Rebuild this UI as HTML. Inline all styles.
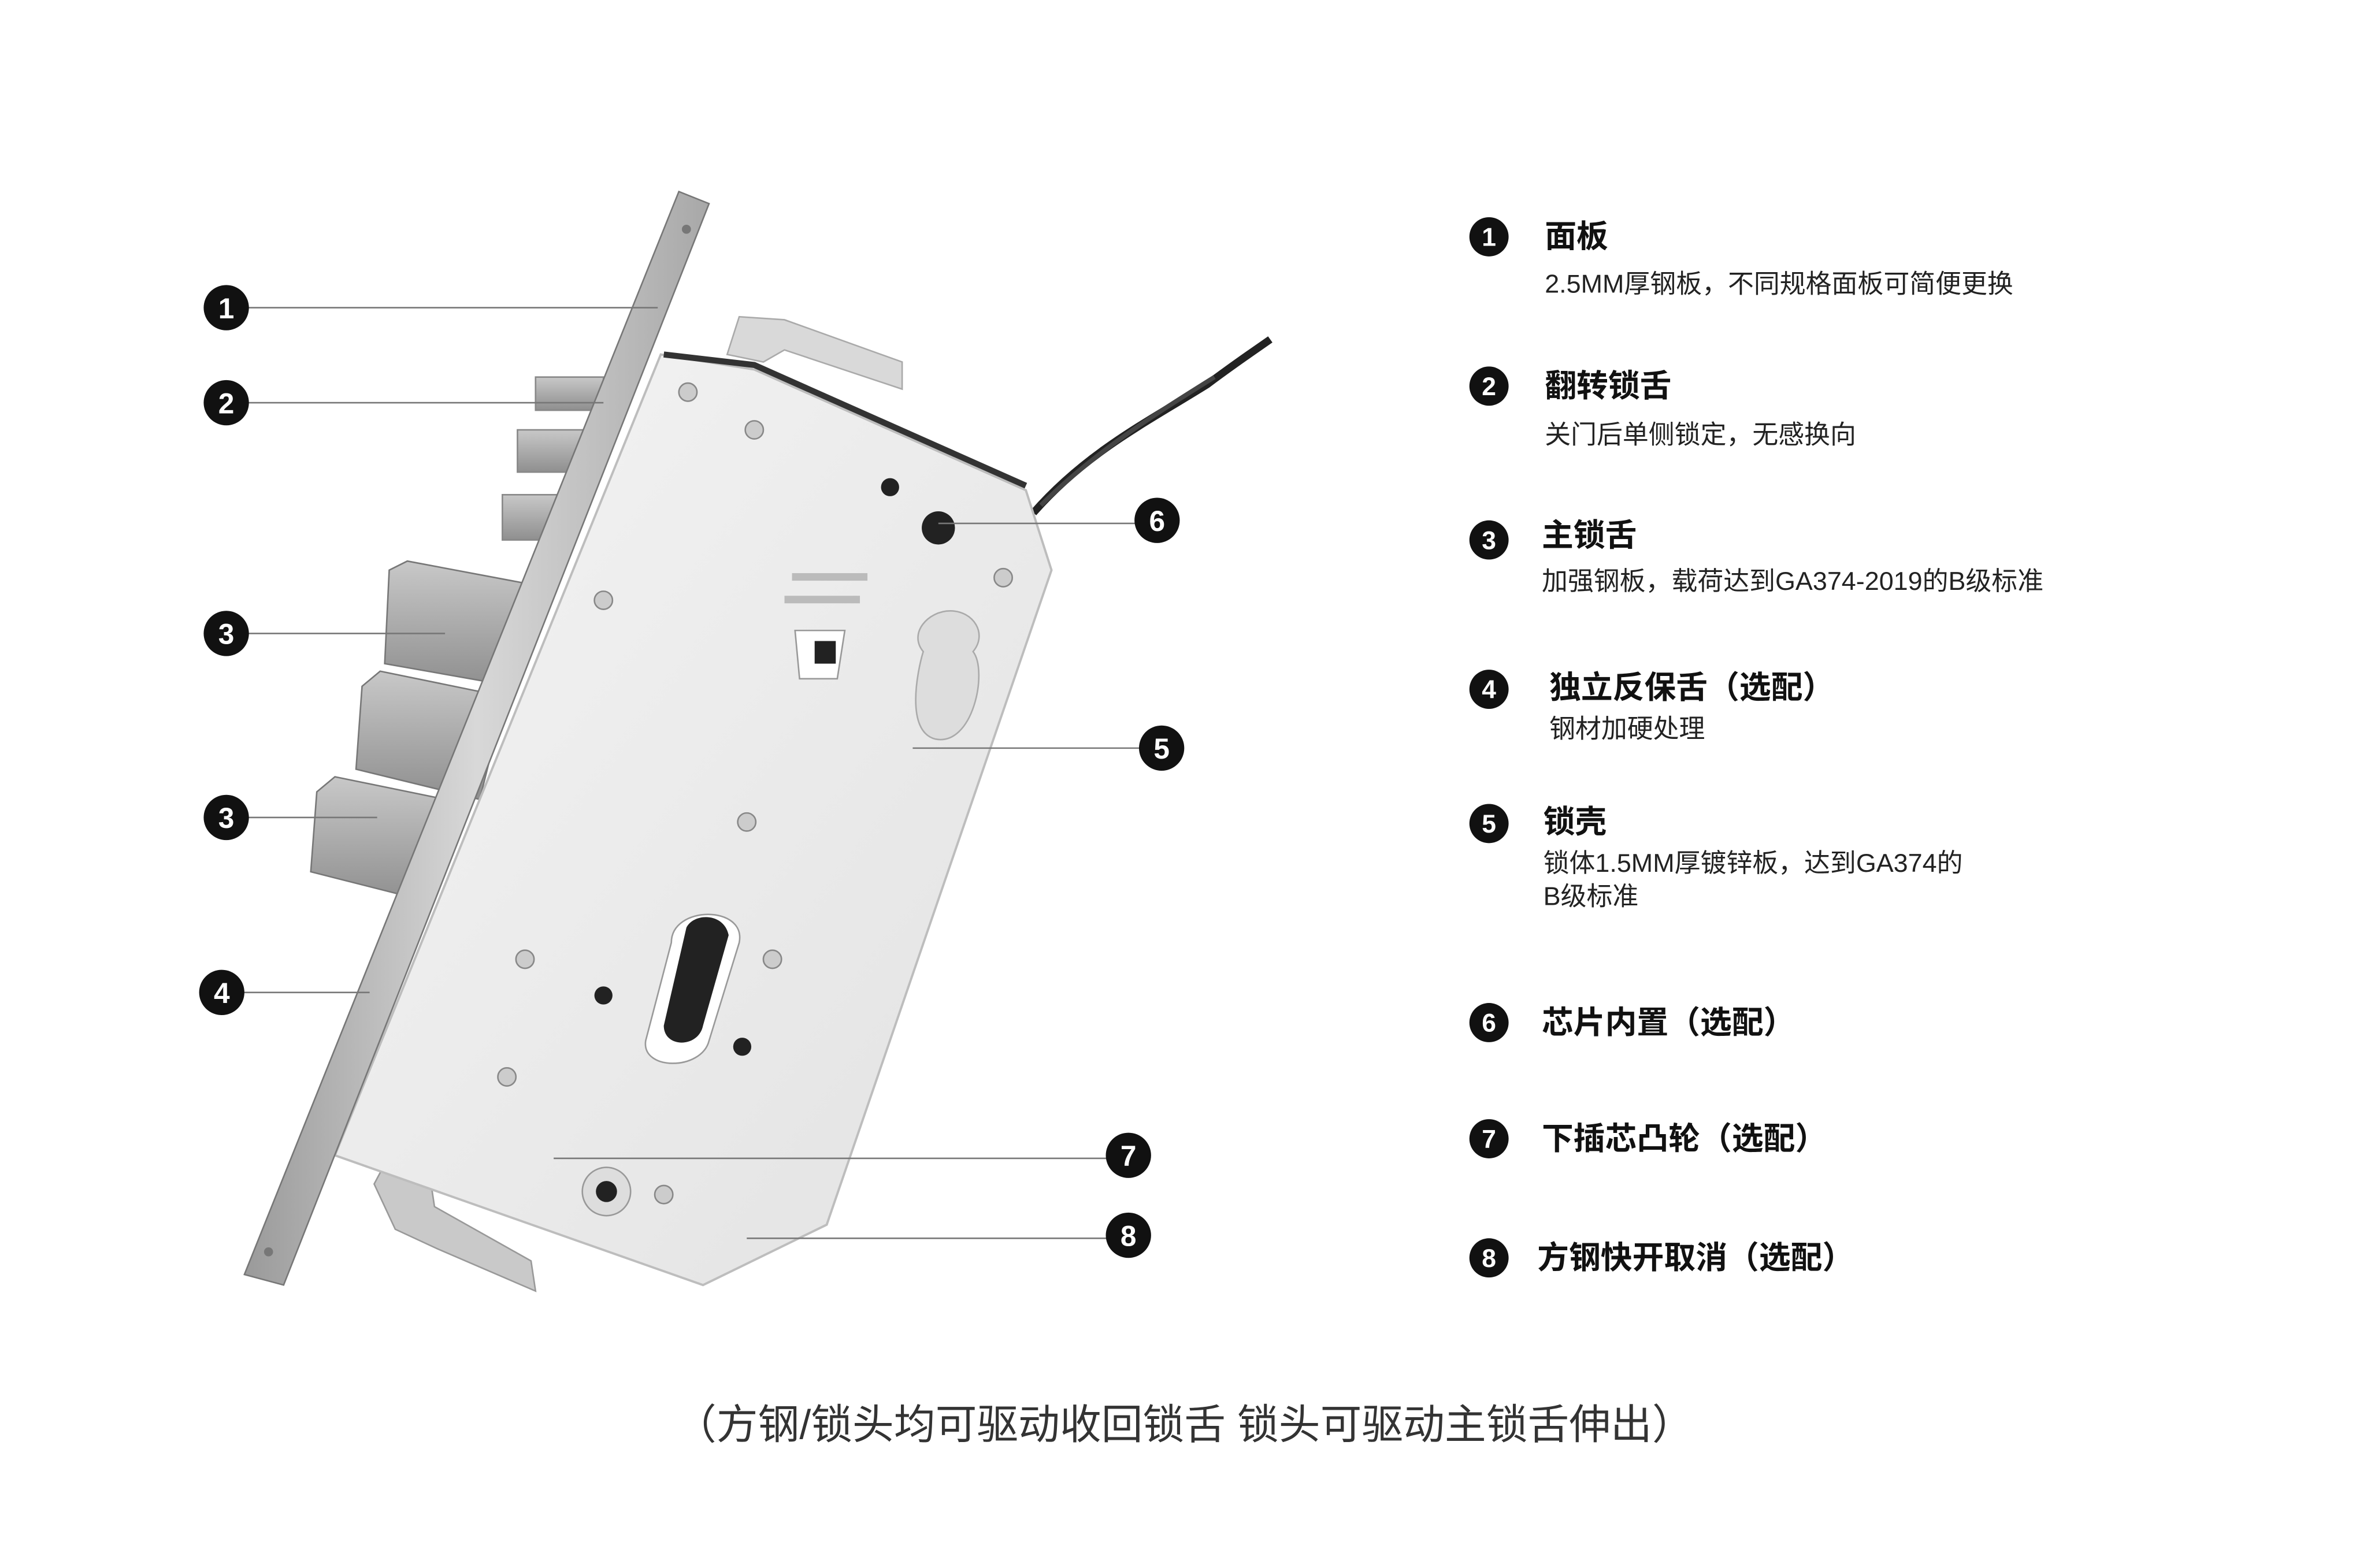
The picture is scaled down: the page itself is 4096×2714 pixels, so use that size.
<!DOCTYPE html>
<html><head><meta charset="utf-8"><style>
html,body{margin:0;padding:0;background:#fff;}
svg{display:block}
text{font-family:"Liberation Sans","Noto Sans CJK SC",sans-serif;}
.t{font-size:21px;font-weight:bold;fill:#111}
.s{font-size:17.2px;fill:#222}
.n{font-family:"Liberation Serif",serif;font-size:19px;font-weight:bold;fill:#fff}
</style></head><body>
<svg width="4096" height="2714" viewBox="0 0 1569 1039.6" xmlns="http://www.w3.org/2000/svg">
<defs>
<linearGradient id="g1" x1="0" y1="0" x2="1" y2="1"><stop offset="0" stop-color="#f4f4f4"/><stop offset="1" stop-color="#e2e2e2"/></linearGradient>
<linearGradient id="pl" x1="0" y1="0" x2="1" y2="0"><stop offset="0" stop-color="#9a9a9a"/><stop offset=".5" stop-color="#d8d8d8"/><stop offset="1" stop-color="#a8a8a8"/></linearGradient>
<linearGradient id="bl" x1="0" y1="0" x2="0" y2="1"><stop offset="0" stop-color="#c8c8c8"/><stop offset="1" stop-color="#8f8f8f"/></linearGradient>
</defs>
<rect width="1569" height="1040" fill="#fff"/>
<path d="M685 340 C720 300 760 280 800 255 C820 240 835 230 842 225" stroke="#222" stroke-width="5" fill="none"/>
<path d="M690 335 C725 300 765 275 805 250" stroke="#444" stroke-width="3" fill="none"/>
<path d="M482 235 L490 210 L520 212 L598 240 L598 258 L520 232 L506 240 Z" fill="#d9d9d9" stroke="#aaa"/>
<path d="M248 785 L256 770 L285 780 L288 800 L352 836 L355 856 L290 828 L262 815 Z" fill="#c9c9c9" stroke="#999"/>
<rect x="355" y="250" width="45" height="22" fill="url(#bl)" stroke="#888"/>
<rect x="343" y="285" width="45" height="28" fill="url(#bl)" stroke="#888"/>
<rect x="333" y="328" width="40" height="30" fill="url(#bl)" stroke="#888"/>
<path d="M258 378 L270 372 L355 388 L340 455 L255 440 Z" fill="url(#bl)" stroke="#777"/>
<path d="M240 455 L252 445 L335 462 L318 530 L236 510 Z" fill="url(#bl)" stroke="#777"/>
<path d="M210 525 L222 515 L305 532 L285 598 L206 578 Z" fill="url(#bl)" stroke="#777"/>
<path d="M438 235 L500 245 L680 325 L697 378 L548 812 L466 852 L222 766 Z" fill="url(#g1)" stroke="#bdbdbd" stroke-width="1.5"/>
<path d="M440 235 L500 242 L680 322" stroke="#333" stroke-width="4" fill="none"/>
<path d="M450 127 L470 135 L188 852 L162 845 Z" fill="url(#pl)" stroke="#777"/>
<circle cx="455" cy="152" r="3" fill="#777"/><circle cx="178" cy="830" r="3" fill="#777"/>
<circle cx="622" cy="350" r="11" fill="#222"/><circle cx="590" cy="323" r="6" fill="#222"/>
<path d="M630 405 C645 405 655 420 645 432 C655 445 645 495 620 490 C600 485 608 445 612 432 C602 420 615 405 630 405Z" fill="#ddd" stroke="#aaa"/>
<path d="M527 418 L560 418 L555 450 L530 450 Z" fill="#fff" stroke="#999"/>
<rect x="540" y="425" width="14" height="15" fill="#222"/>
<path d="M445 625 C445 600 495 600 490 625 L470 690 C465 710 425 710 428 690 Z" fill="#fff" stroke="#999"/>
<path d="M455 615 C460 605 480 605 483 620 L466 680 C463 695 440 695 440 680Z" fill="#222"/>
<circle cx="400" cy="660" r="6" fill="#222"/><circle cx="492" cy="694" r="6" fill="#222"/>
<circle cx="402" cy="790" r="16" fill="#ddd" stroke="#999"/><circle cx="402" cy="790" r="7" fill="#222"/>
<g fill="#ccc" stroke="#888">
<circle cx="456" cy="260" r="6"/><circle cx="500" cy="285" r="6"/><circle cx="665" cy="383" r="6"/><circle cx="400" cy="398" r="6"/>
<circle cx="495" cy="545" r="6"/><circle cx="348" cy="636" r="6"/><circle cx="512" cy="636" r="6"/><circle cx="336" cy="714" r="6"/><circle cx="440" cy="792" r="6"/>
</g>
<rect x="525" y="380" width="50" height="5" fill="#bbb"/><rect x="520" y="395" width="50" height="5" fill="#bbb"/>
<g stroke="#777" stroke-width="1" fill="none">
<line x1="150" y1="204" x2="436" y2="204"/><line x1="150" y1="267" x2="400" y2="267"/>
<line x1="150" y1="420" x2="295" y2="420"/><line x1="150" y1="542" x2="250" y2="542"/>
<line x1="147" y1="658" x2="245" y2="658"/><line x1="622" y1="347" x2="767" y2="347"/>
<line x1="605" y1="496" x2="770" y2="496"/><line x1="367" y1="768" x2="748" y2="768"/>
<line x1="495" y1="821" x2="748" y2="821"/>
</g>
<g fill="#111">
<circle cx="150" cy="204" r="15"/><circle cx="150" cy="267" r="15"/><circle cx="150" cy="420" r="15"/><circle cx="150" cy="542" r="15"/><circle cx="147" cy="658" r="15"/>
<circle cx="767" cy="345" r="15"/><circle cx="770" cy="496" r="15"/><circle cx="748" cy="766" r="15"/><circle cx="748" cy="819" r="15"/>
<circle cx="987" cy="157" r="13"/><circle cx="987" cy="256" r="13"/><circle cx="987" cy="358" r="13"/><circle cx="987" cy="457" r="13"/><circle cx="987" cy="546" r="13"/><circle cx="987" cy="678" r="13"/><circle cx="987" cy="755" r="13"/><circle cx="987" cy="834" r="13"/>
</g>
<g class="n" text-anchor="middle">
<text x="150" y="211">1</text><text x="150" y="274">2</text><text x="150" y="427">3</text><text x="150" y="549">3</text><text x="147" y="665">4</text>
<text x="767" y="352">6</text><text x="770" y="503">5</text><text x="748" y="773">7</text><text x="748" y="826">8</text>
</g>
<g class="n" text-anchor="middle" style="font-size:17px">
<text x="987" y="163">1</text><text x="987" y="262">2</text><text x="987" y="364">3</text><text x="987" y="463">4</text><text x="987" y="552">5</text><text x="987" y="684">6</text><text x="987" y="761">7</text><text x="987" y="840">8</text>
</g>
<text class="t" x="1024" y="164">面板</text>
<text class="s" x="1024" y="194">2.5MM厚钢板，不同规格面板可简便更换</text>
<text class="t" x="1024" y="263">翻转锁舌</text>
<text class="s" x="1024" y="294">关门后单侧锁定，无感换向</text>
<text class="t" x="1022" y="362">主锁舌</text>
<text class="s" x="1022" y="391">加强钢板，载荷达到GA374-2019的B级标准</text>
<text class="t" x="1027" y="463">独立反保舌（选配）</text>
<text class="s" x="1027" y="489">钢材加硬处理</text>
<text class="t" x="1023" y="552">锁壳</text>
<text class="s" x="1023" y="578">锁体1.5MM厚镀锌板，达到GA374的</text>
<text class="s" x="1023" y="600">B级标准</text>
<text class="t" x="1022" y="685">芯片内置（选配）</text>
<text class="t" x="1022" y="762">下插芯凸轮（选配）</text>
<text class="t" x="1019" y="841">方钢快开取消（选配）</text>
<text x="785" y="954" text-anchor="middle" style="font-size:27.5px;fill:#333">（方钢/锁头均可驱动收回锁舌  锁头可驱动主锁舌伸出）</text>
</svg>
</body></html>
